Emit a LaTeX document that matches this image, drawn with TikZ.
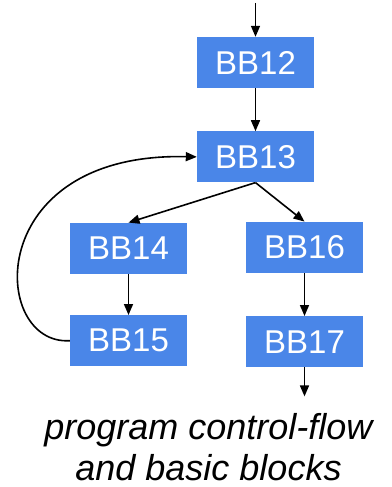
\documentclass[tikz,border=0pt]{standalone}
\usepackage{fontspec}
\setmainfont{Liberation Sans}
\usetikzlibrary{positioning,arrows.meta,calc}
\definecolor{bbblue}{HTML}{4A86E8}

\begin{document}
\begin{tikzpicture}[
  blk/.style={fill=bbblue, text=white, inner sep=0pt, minimum width=117pt,
              minimum height=51pt, font=\fontsize{33}{40}\selectfont},
  arr/.style={-{Triangle[length=11pt,width=9pt]}, line width=1.6pt}
]
\useasboundingbox (0,0) rectangle (391pt,-487pt);

\node[blk] (bb12) at (255.5pt,-62.5pt) {BB12};
\node[blk, below=43pt of bb12]             (bb13) {BB13};
\node[blk, below=40pt of bb13, xshift=-127pt] (bb14) {BB14};
\node[blk, below=39pt of bb13, xshift=49pt]   (bb16) {BB16};
\node[blk, below=41pt of bb14]             (bb15) {BB15};
\node[blk, below=43pt of bb16]             (bb17) {BB17};

\coordinate (entry) at ($(bb12.north)+(0,34pt)$);
\coordinate (exit)  at ($(bb17.south)+(0,-29pt)$);

\draw[arr] (entry) -- (bb12.north);
\draw[arr] (bb12.south) -- (bb13.north);
\draw[arr] (bb13.south) -- (bb14.north);
\draw[arr] (bb13.south) -- (bb16.north);
\draw[arr] (bb14.south) -- (bb15.north);
\draw[arr] (bb16.south) -- (bb17.north);
\draw[arr] (bb17.south) -- (exit);

% back edge of the loop
\draw[arr] (bb15.west) .. controls +(-80pt,-5pt) and +(-215pt,5pt) .. (bb13.west);

\node[anchor=base, align=center, font=\fontsize{36}{41}\selectfont\itshape]
  (caption) at (208.5pt,-480pt) {program control-flow\\and basic blocks};
\end{tikzpicture}
\end{document}
